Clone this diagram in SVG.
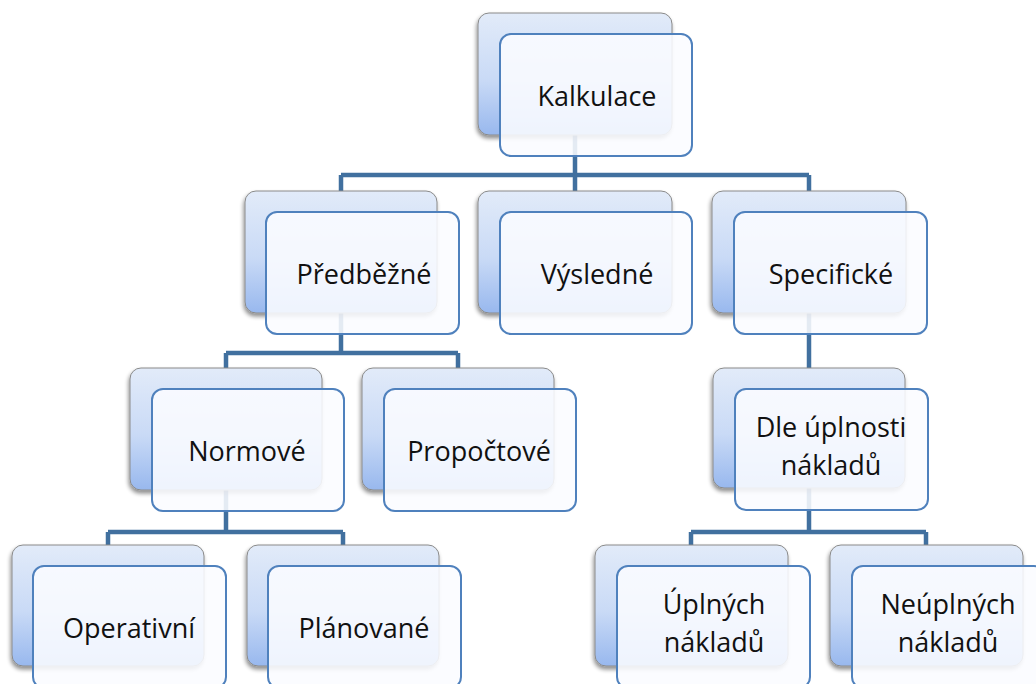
<svg xmlns="http://www.w3.org/2000/svg" width="1036" height="684" viewBox="0 0 1036 684">
<defs>
<linearGradient id="bg" x1="0" y1="0" x2="0" y2="1">
<stop offset="0" stop-color="#e2ebf9"/>
<stop offset="0.55" stop-color="#c9daf6"/>
<stop offset="1" stop-color="#98b8ee"/>
</linearGradient>
<filter id="sh" x="-10%" y="-10%" width="125%" height="130%">
<feGaussianBlur in="SourceAlpha" stdDeviation="2"/>
<feOffset dx="-1" dy="3"/>
<feComponentTransfer><feFuncA type="linear" slope="0.45"/></feComponentTransfer>
<feMerge><feMergeNode/><feMergeNode in="SourceGraphic"/></feMerge>
</filter>
</defs>
<style>
.back{fill:url(#bg);stroke:#8a8a8a;stroke-width:1;filter:url(#sh)}
.front{fill:#fafcff;fill-opacity:0.88;stroke:#4f81bd;stroke-width:2}
.t{font-family:"Open Sans","Liberation Sans",sans-serif;font-size:27px;fill:#111;text-anchor:middle}
.c{fill:none;stroke:#41709f;stroke-width:4.5}
</style>
<rect width="1036" height="684" fill="#fff"/>
<g id="connectors">
<path class="c" d="M575 135 V175 M341 175 H809 M341 175 V191 M575 175 V191 M809 175 V191"/>
<path class="c" d="M341 313 V353 M226 353 H458 M226 353 V368 M458 353 V368"/>
<path class="c" d="M809 313 V368"/>
<path class="c" d="M226 490 V532 M108 532 H343 M108 532 V545 M343 532 V545"/>
<path class="c" d="M809 488 V532 M691 532 H926 M691 532 V545 M926 532 V545"/>
</g>
<g id="kalkulace">
<rect class="back" x="478" y="13" width="194" height="122" rx="11"/>
<rect class="front" x="500" y="34" width="192" height="122" rx="11"/>
<text class="t" x="597" y="106">Kalkulace</text>
</g>
<g id="predbezne">
<rect class="back" x="245" y="191" width="192" height="122" rx="11"/>
<rect class="front" x="266" y="212" width="193" height="122" rx="11"/>
<text class="t" x="364" y="284">Předběžné</text>
</g>
<g id="vysledne">
<rect class="back" x="478" y="191" width="194" height="122" rx="11"/>
<rect class="front" x="500" y="212" width="192" height="122" rx="11"/>
<text class="t" x="597" y="284">Výsledné</text>
</g>
<g id="specificke">
<rect class="back" x="712" y="191" width="194" height="122" rx="11"/>
<rect class="front" x="734" y="212" width="193" height="122" rx="11"/>
<text class="t" x="831" y="284">Specifické</text>
</g>
<g id="normove">
<rect class="back" x="130" y="368" width="192" height="122" rx="11"/>
<rect class="front" x="152" y="389" width="192" height="122" rx="11"/>
<text class="t" x="247" y="461">Normové</text>
</g>
<g id="propoctove">
<rect class="back" x="362" y="368" width="192" height="122" rx="11"/>
<rect class="front" x="384" y="389" width="192" height="122" rx="11"/>
<text class="t" x="479" y="461">Propočtové</text>
</g>
<g id="dle">
<rect class="back" x="713" y="368" width="192" height="120" rx="11"/>
<rect class="front" x="735" y="389" width="193" height="121" rx="11"/>
<text class="t" x="831" y="437">Dle úplnosti</text>
<text class="t" x="831" y="475">nákladů</text>
</g>
<g id="operativni">
<rect class="back" x="12" y="545" width="192" height="121" rx="11"/>
<rect class="front" x="33" y="566" width="193" height="122" rx="11"/>
<text class="t" x="129" y="638">Operativní</text>
</g>
<g id="planovane">
<rect class="back" x="247" y="545" width="192" height="121" rx="11"/>
<rect class="front" x="268" y="566" width="193" height="122" rx="11"/>
<text class="t" x="364" y="638">Plánované</text>
</g>
<g id="uplnych">
<rect class="back" x="595" y="545" width="193" height="121" rx="11"/>
<rect class="front" x="617" y="566" width="193" height="122" rx="11"/>
<text class="t" x="714" y="614">Úplných</text>
<text class="t" x="714" y="652">nákladů</text>
</g>
<g id="neuplnych">
<rect class="back" x="830" y="545" width="193" height="121" rx="11"/>
<rect class="front" x="852" y="566" width="193" height="122" rx="11"/>
<text class="t" x="948" y="614">Neúplných</text>
<text class="t" x="948" y="652">nákladů</text>
</g>
</svg>
